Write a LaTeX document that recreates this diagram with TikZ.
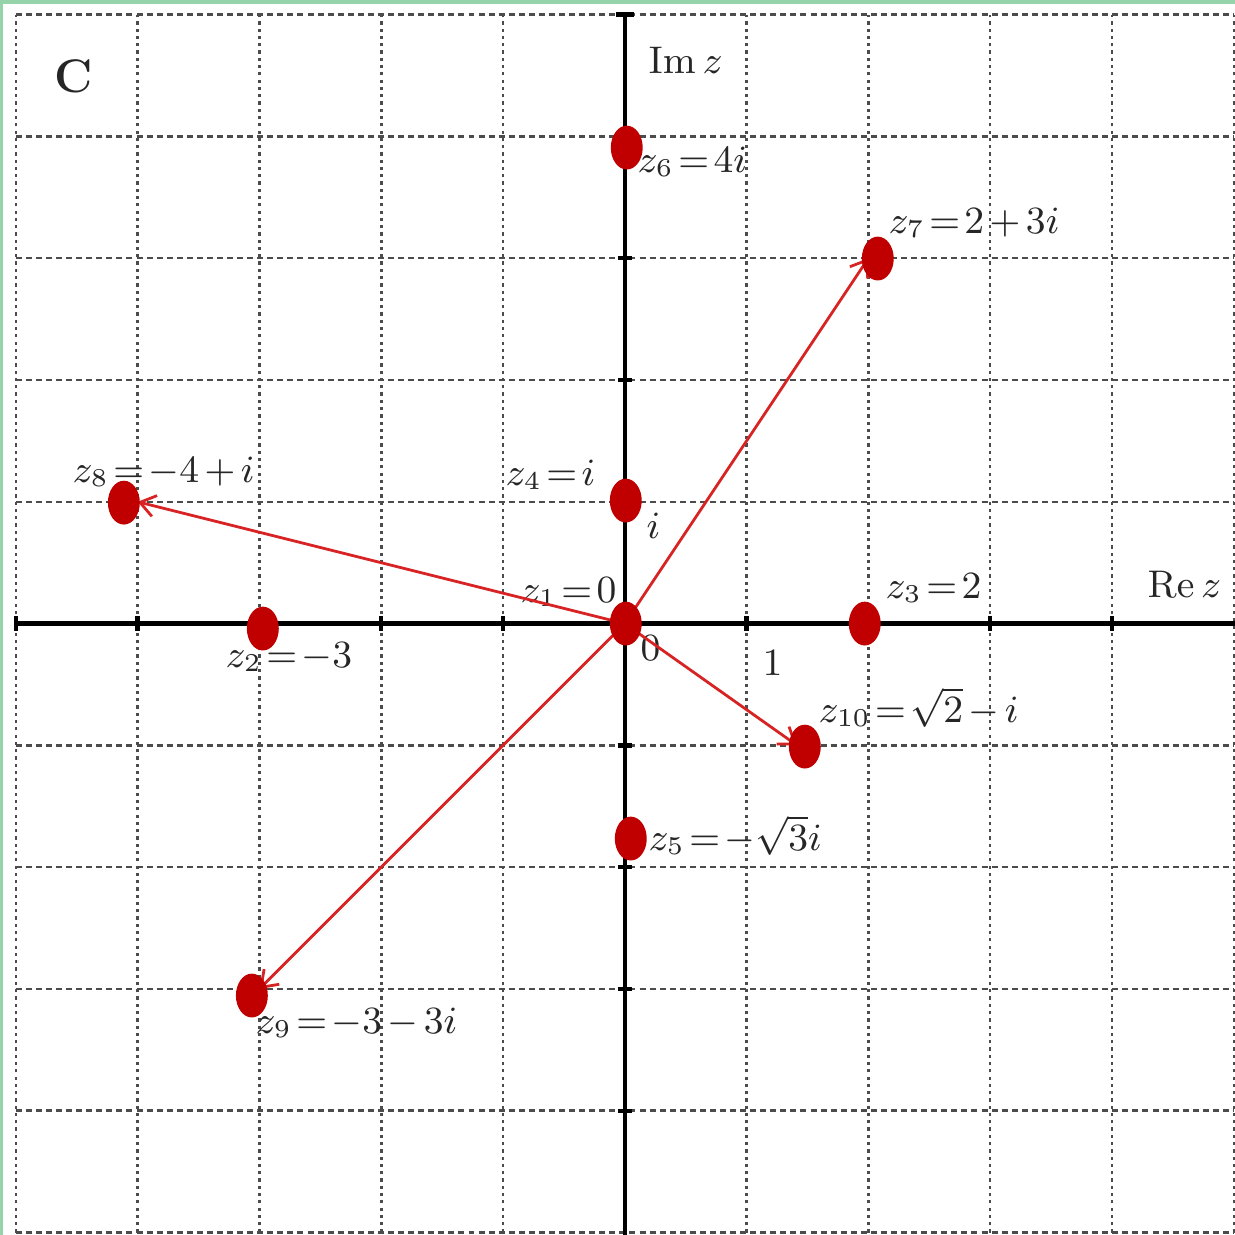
\documentclass[tikz,border=0pt]{standalone}
\usetikzlibrary{arrows.meta,shapes.geometric}
\definecolor{dotred}{RGB}{192,0,0}
\definecolor{vecred}{RGB}{215,35,35}
\definecolor{framegreen}{RGB}{150,210,170}
\begin{document}
\begin{tikzpicture}[x=1cm,y=1cm,
  gridh/.style={draw=black!70, line width=0.6pt, dash pattern=on 1.4pt off 0.95pt},
  gridv/.style={draw=black!70, line width=0.6pt, dash pattern=on 0.75pt off 0.95pt},
  axisline/.style={line width=1pt, black},
  tickmark/.style={line width=1pt, black},
  vec/.style={draw=vecred, line width=0.65pt, -{Straight Barb[length=3.5pt,width=5pt]}},
  dot/.style={ellipse, fill=dotred, draw=none, inner sep=0pt, minimum width=0.262cm, minimum height=0.36cm},
  lbl/.style={font=\fontsize{8.8}{11}\selectfont, text=black!85, inner sep=0pt, anchor=base west},
]
\thickmuskip=2mu plus 1mu
\medmuskip=2.5mu plus 1mu
\useasboundingbox (-5.13,-5.02) rectangle (5.01,5.12);
\fill[white] (-5.13,-5.02) rectangle (5.01,5.12);
% frame strips
\fill[framegreen] (-5.13,5.087) rectangle (5.01,5.12);
\fill[framegreen] (-5.13,-5.02) rectangle (-5.105,5.12);
% grid
\foreach \x in {-5,-4,-3,-2,-1,1,2,3,4,5} \draw[gridv] (\x,-5) -- (\x,5);
\foreach \y in {-5,-4,-3,-2,-1,1,2,3,4,5} \draw[gridh] (-5,\y) -- (5,\y);
% axes
\draw[axisline] (-5,0) -- (5.01,0);
\draw[axisline] (0,-5.02) -- (0,5);
\foreach \t in {-5,-4,-3,-2,-1,1,2,3,4} \draw[tickmark] (\t,-0.06) -- (\t,0.06);
\foreach \t in {-4,-3,-2,-1,1,2,3,4} \draw[tickmark] (-0.06,\t) -- (0.06,\t);
\draw[tickmark] (-0.075,5) -- (0.075,5);
% labels
\node[lbl] (C) at (-4.69,4.36) {\fontsize{11}{13}\selectfont\bfseries C};
\node[lbl] (imz) at (0.189,4.516) {$\mathrm{Im}\,z$};
\node[lbl] (rez) at (4.286,0.213) {$\mathrm{Re}\,z$};
\node[lbl] (l6) at (0.099,3.703) {$z_6 = 4i$};
\node[lbl] (l7) at (2.159,3.202) {$z_7 = 2 + 3i$};
\node[lbl] (l8) at (-4.54,1.158) {$z_8 = -4 + i$};
\node[lbl] (l4) at (-0.985,1.133) {$z_4 = i$};
\node[lbl] (li) at (0.172,0.698) {$i$};
\node[lbl] (l1) at (-0.862,0.172) {$z_1 = 0$};
\node[lbl] (l0) at (0.123,-0.304) {$0$};
\node[lbl] (lone) at (1.125,-0.427) {$1$};
\node[lbl] (l3) at (2.135,0.205) {$z_3 = 2$};
\node[lbl] (l2) at (-3.284,-0.361) {$z_2 = -3$};
\node[lbl] (l10) at (1.585,-0.813) {$z_{10} = \sqrt{2} - i$};
\node[lbl] (l5) at (0.189,-1.864) {$z_5 = -\sqrt{3}i$};
\node[lbl] (l9) at (-3.038,-3.366) {$z_9 = -3 - 3i$};
% vectors
\coordinate (O) at (0,0);
\coordinate (t7) at (2,3);
\coordinate (t8) at (-4,1);
\coordinate (t9) at (-3,-3);
\coordinate (t10) at (1.4142,-1);
\draw[vec] (O) -- (t7);
\draw[vec] (O) -- (t8);
\draw[vec] (O) -- (t9);
\draw[vec] (O) -- (t10);
% dots
\node[dot] (d6) at (0.016,3.908) {};
\node[dot] (d7) at (2.077,2.997) {};
\node[dot] (d8) at (-4.113,0.993) {};
\node[dot] (d4) at (0.008,1.010) {};
\node[dot] (d1) at (0.008,0) {};
\node[dot] (d2) at (-2.972,-0.041) {};
\node[dot] (d3) at (1.970,0) {};
\node[dot] (d10) at (1.478,-1.010) {};
\node[dot] (d5) at (0.049,-1.765) {};
\node[dot] (d9) at (-3.062,-3.054) {};
\end{tikzpicture}
\end{document}
